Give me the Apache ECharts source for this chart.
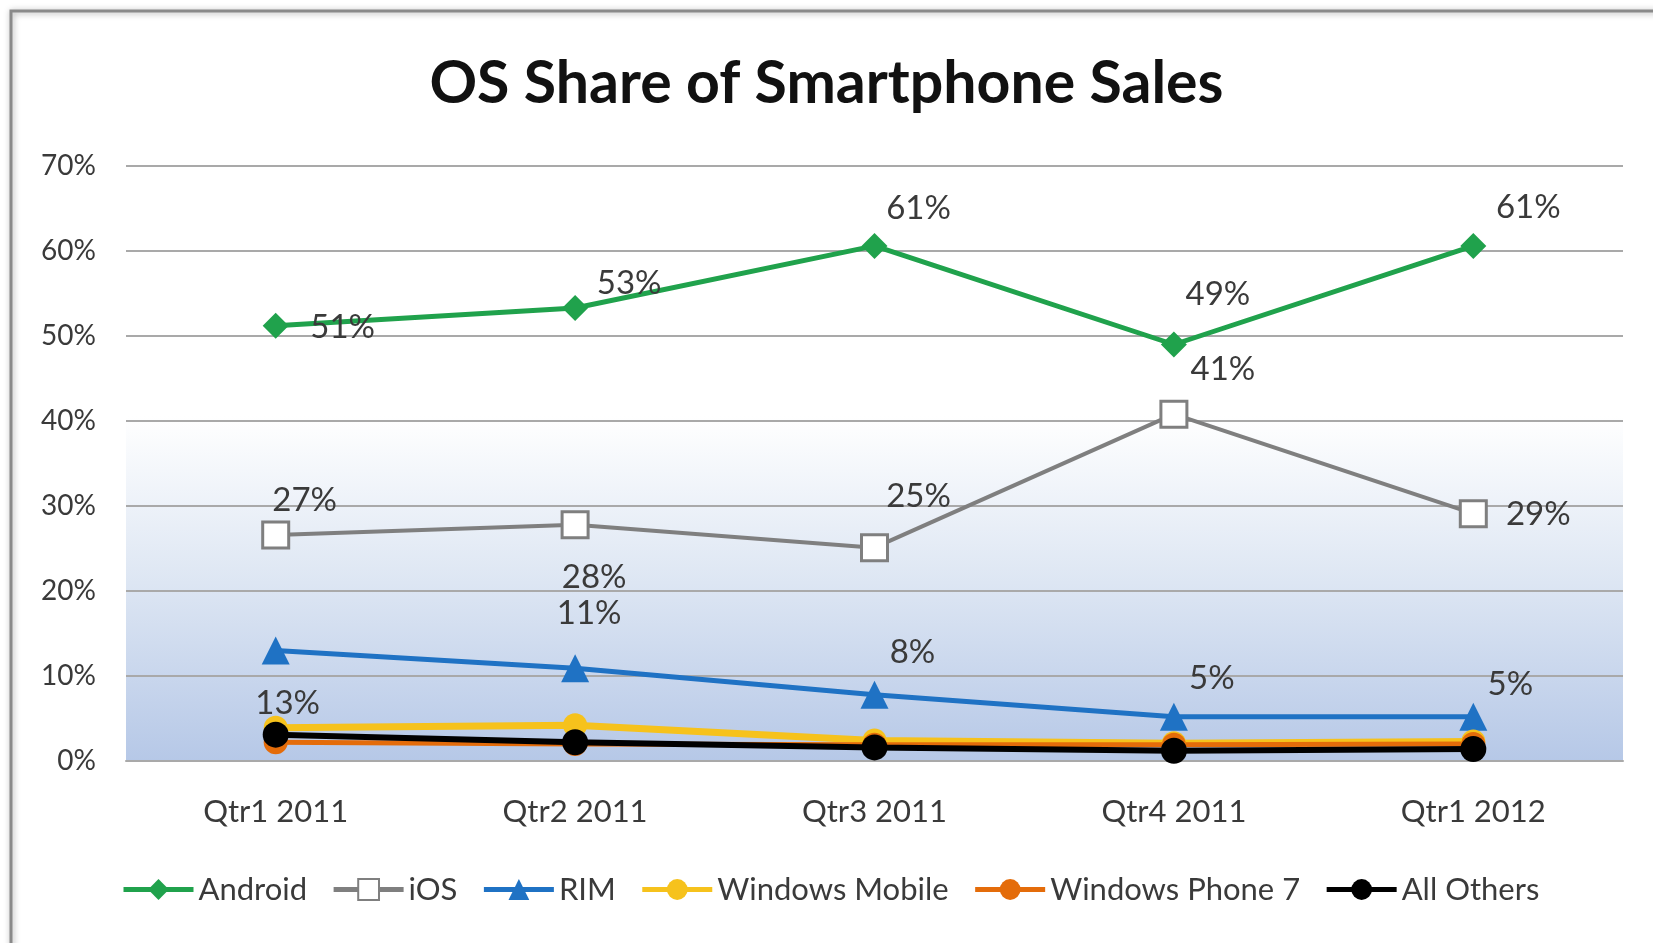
<!DOCTYPE html>
<html><head><meta charset="utf-8">
<script src="https://cdn.jsdelivr.net/npm/echarts@6/dist/echarts.min.js"></script>
<style>html,body{margin:0;padding:0;background:#fff;overflow:hidden}#c{width:1653px;height:943px}</style>
</head><body><div id="c"></div><script>
// ---- data ----
const categories = ['Qtr1 2011', 'Qtr2 2011', 'Qtr3 2011', 'Qtr4 2011', 'Qtr1 2012'];
const android = [51.2, 53.3, 60.6, 49.0, 60.6];
const ios = [26.6, 27.8, 25.1, 40.8, 29.1];
const rim = [13.0, 10.9, 7.8, 5.2, 5.2];
const windowsMobile = [3.9, 4.2, 2.4, 2.1, 2.3];
const windowsPhone7 = [2.2, 2.0, 1.9, 1.9, 2.0];
const allOthers = [3.1, 2.2, 1.6, 1.2, 1.4];
const yTickMax = 70;
const yTickStep = 10;

// ---- layout (label offsets from each point, px) ----
const androidLabelOffsets = [[67, 2], [54, -25], [44, -38], [44, -50], [55, -39]];
const iosLabelOffsets = [[29, -35], [19, 53], [44, -51], [49, -45], [65, 1]];
const rimLabelOffsets = [[12, 53], [14, -55], [38, -42], [38, -38], [37, -32]];

const FONT = 'Lato, "Open Sans", sans-serif';
const TXT = '#3a3a3a';

function withLabels(values, offsets) {
  return values.map((v, i) => ({ value: v, label: { offset: offsets[i] } }));
}
const labelStyle = {
  show: true, position: 'inside', color: TXT, fontFamily: FONT, fontSize: 33,
  formatter: p => Math.round(p.value) + '%'
};

const chart = echarts.init(document.getElementById('c'), null, { renderer: 'canvas' });
chart.setOption({
  animation: false,
  backgroundColor: '#fff',
  title: {
    text: 'OS Share of Smartphone Sales', left: 'center', top: 49,
    textStyle: { fontFamily: FONT, fontWeight: 'bold', fontSize: 59, color: '#111' }
  },
  graphic: [{
    type: 'rect', shape: { x: 11, y: 11, width: 1700, height: 1000 },
    style: { fill: 'none', stroke: '#8a8a8a', lineWidth: 3, shadowBlur: 6, shadowColor: 'rgba(0,0,0,0.35)', shadowOffsetX: 1, shadowOffsetY: 1 },
    silent: true, z: -1
  }],
  legend: {
    top: 869, left: 116, itemWidth: 70, itemHeight: 26, itemGap: 24,
    lineStyle: { width: 5 },
    textStyle: { fontFamily: FONT, fontSize: 31, color: TXT },
    data: ['Android', 'iOS', 'RIM', 'Windows Mobile', 'Windows Phone 7', 'All Others']
  },
  grid: {
    left: 126, right: 30, top: 166, bottom: 943 - 761, containLabel: false,
    show: true, borderWidth: 0,
    backgroundColor: {
      type: 'linear', x: 0, y: 0, x2: 0, y2: 1,
      colorStops: [{ offset: 0, color: '#ffffff' }, { offset: 0.42, color: '#ffffff' },
                   { offset: 0.7, color: '#dde6f3' }, { offset: 1, color: '#b6c8e7' }]
    }
  },
  xAxis: {
    type: 'category', data: categories, boundaryGap: true,
    axisLine: { show: true, lineStyle: { color: '#a9a9a9', width: 2 } },
    axisTick: { show: false },
    axisLabel: { color: TXT, fontFamily: FONT, fontSize: 31, margin: 35 }
  },
  yAxis: {
    type: 'value', min: 0, max: yTickMax, interval: yTickStep,
    axisLine: { show: false }, axisTick: { show: false },
    axisLabel: { color: TXT, fontFamily: FONT, fontSize: 28, margin: 30, formatter: v => v + '%' },
    splitLine: { lineStyle: { color: '#a9a9a9', width: 2 } }
  },
  series: [
    { name: 'Android', type: 'line', data: withLabels(android, androidLabelOffsets),
      symbol: 'diamond', symbolSize: 26, color: '#20a24c',
      lineStyle: { width: 5, color: '#20a24c' }, itemStyle: { color: '#20a24c' }, label: labelStyle },
    { name: 'iOS', type: 'line', data: withLabels(ios, iosLabelOffsets),
      symbol: 'rect', symbolSize: 26, color: '#7f7f7f',
      lineStyle: { width: 4, color: '#7f7f7f' }, itemStyle: { color: '#ffffff', borderColor: '#7f7f7f', borderWidth: 3 }, label: labelStyle },
    { name: 'RIM', type: 'line', data: withLabels(rim, rimLabelOffsets),
      symbol: 'triangle', symbolSize: 28, color: '#1f72c4',
      lineStyle: { width: 5, color: '#1f72c4' }, itemStyle: { color: '#1f72c4' }, label: labelStyle },
    { name: 'Windows Mobile', type: 'line', data: windowsMobile,
      symbol: 'circle', symbolSize: 24, color: '#f6c21c',
      lineStyle: { width: 7, color: '#f6c21c' }, itemStyle: { color: '#f6c21c' } },
    { name: 'Windows Phone 7', type: 'line', data: windowsPhone7,
      symbol: 'circle', symbolSize: 24, color: '#e46c0a',
      lineStyle: { width: 5, color: '#e46c0a' }, itemStyle: { color: '#e46c0a' } },
    { name: 'All Others', type: 'line', data: allOthers,
      symbol: 'circle', symbolSize: 26, color: '#000000',
      lineStyle: { width: 6, color: '#000000' }, itemStyle: { color: '#000000' } }
  ]
});
</script></body></html>
